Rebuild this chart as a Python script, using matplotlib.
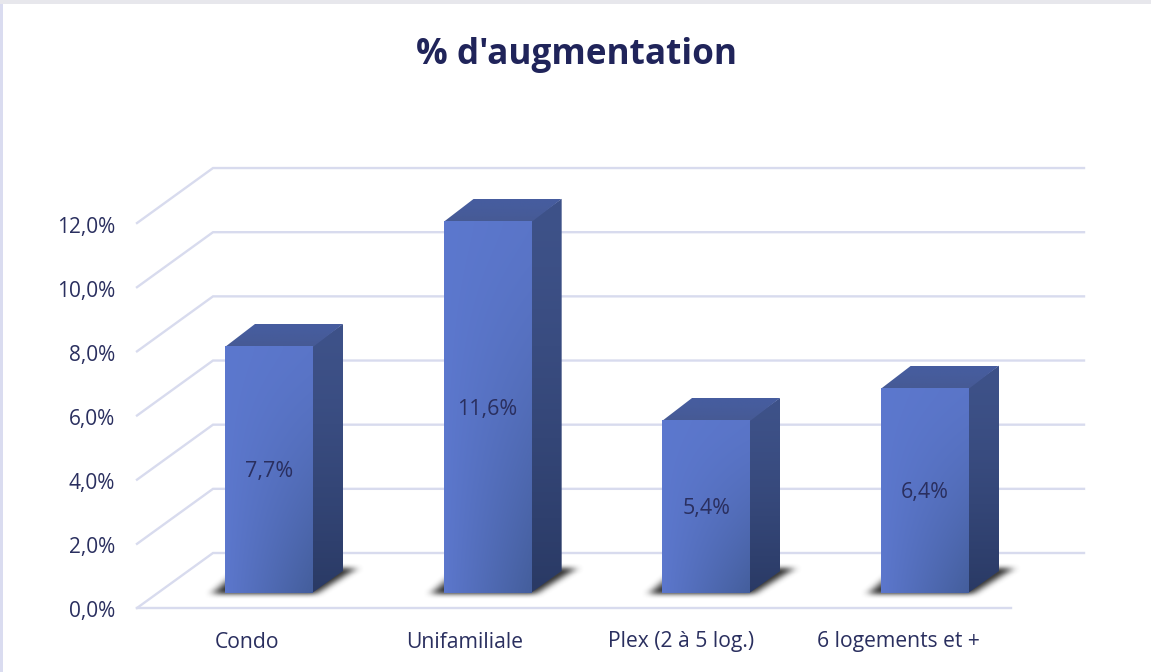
import numpy as np
import matplotlib
matplotlib.use('Agg')
import matplotlib.pyplot as plt
from matplotlib.patches import Polygon, Rectangle
from matplotlib.path import Path
from matplotlib.colors import to_rgb

categories = ['Condo', 'Unifamiliale', 'Plex (2 à 5 log.)', '6 logements et +']
values = [7.7, 11.6, 5.4, 6.4]
value_labels = ['7,7%', '11,6%', '5,4%', '6,4%']
grid_values = [0, 2, 4, 6, 8, 10, 12]
grid_labels = ['0,0%', '2,0%', '4,0%', '6,0%', '8,0%', '10,0%', '12,0%']

W, H = 1151, 672
PX_X = 218.67   # pixels for one category
PX_Y = 32.08    # pixels for 1 %
X0, Y0 = 269, 593   # centre of first bar at 0 %

DARK = '#2A2F5F'
TITLE = '#20245A'
GRID = '#D8DBEE'

plt.rcParams['font.family'] = ['Open Sans', 'DejaVu Sans']

fig = plt.figure(figsize=(W / 100, H / 100), dpi=100)
ax = fig.add_axes([0, 0, 1, 1])
ax.axis('off')
xlim = (-X0 / PX_X, (W - X0) / PX_X)
ylim = ((Y0 - H) / PX_Y, Y0 / PX_Y)


def dx(px):
    return px / PX_X


def dy(px):
    return px / PX_Y


def gradient(verts, colors, zorder):
    # fill a polygon with a 2d colour ramp, colors = tl, tr, bl, br
    xs = [v[0] for v in verts]
    ys = [v[1] for v in verts]
    u, v = np.meshgrid(np.linspace(0, 1, 60), np.linspace(0, 1, 60))
    v = v ** 1.4
    tl, tr, bl, br = [np.array(to_rgb(c)) for c in colors]
    img = (tl[None, None] * ((1 - u) * (1 - v))[..., None]
           + tr[None, None] * (u * (1 - v))[..., None]
           + bl[None, None] * ((1 - u) * v)[..., None]
           + br[None, None] * (u * v)[..., None])
    im = ax.imshow(img, extent=(min(xs), max(xs), min(ys), max(ys)), origin='upper',
                   aspect='auto', zorder=zorder, interpolation='bilinear')
    im.set_clip_path(Polygon(verts, closed=True, transform=ax.transData))


def shadow(x_left, x_right):
    # blurred drop shadow on the floor behind the bar
    left, right = x_left - dx(20), x_right + dx(50)
    poly = Path([(x_left - dx(13), dy(-1)), (x_right + dx(3), dy(-1)),
                 (x_right + dx(44), dy(25)), (x_left + dx(16), dy(25))])
    bottom, top = dy(-10), dy(36)
    xs = np.linspace(left - dx(10), right + dx(10), 190)
    ys = np.linspace(bottom, top, 92)
    gx, gy = np.meshgrid(xs, ys)
    mask = poly.contains_points(np.c_[gx.ravel(), gy.ravel()]).reshape(gx.shape).astype(float)
    kernel = np.ones(11) / 11
    for _ in range(2):
        mask = np.apply_along_axis(lambda r: np.convolve(r, kernel, mode='same'), 1, mask)
        mask = np.apply_along_axis(lambda r: np.convolve(r, kernel, mode='same'), 0, mask)
    img = np.zeros(mask.shape + (4,))
    img[..., :3] = 0.25
    img[..., 3] = np.clip(mask * 1.1, 0, 1)
    ax.imshow(img, extent=(xs[0], xs[-1], ys[0], ys[-1]), origin='lower', aspect='auto',
              zorder=2, interpolation='bilinear')


# window edges
fig.add_artist(Rectangle((0, 0), 2.5 / W, 1, transform=fig.transFigure, color='#DADCF0', lw=0))
fig.add_artist(Rectangle((0, 1 - 3.5 / H), 1, 3.5 / H, transform=fig.transFigure, color='#E7E7EC', lw=0))

# floor and walls
floor_left, floor_right = dx(137 - X0), dx(1011 - X0)
depth_x, depth_y = dx(76), dy(55)
floor_y = dy(-15)
for v, lab in zip(grid_values, grid_labels):
    y = v + floor_y
    if v == 0:
        ax.plot([floor_left, floor_right], [y, y], color=GRID, lw=1.7, zorder=1)
    ax.plot([floor_left, floor_left + depth_x, floor_left + depth_x + dx(871)],
            [y, y + depth_y, y + depth_y], color=GRID, lw=1.7, zorder=1, solid_joinstyle='miter')
    ax.text(floor_left - dx(22), y - dy(4), lab, ha='right', va='center', fontsize=15, color=DARK)

# bars
half = dx(44)
bar_dx, bar_dy = dx(30), dy(22)
for i, (cat, val, lab) in enumerate(zip(categories, values, value_labels)):
    l, r = i - half, i + half
    shadow(l, r)
    gradient([(r - dx(1), 0), (r + bar_dx, bar_dy), (r + bar_dx, val + bar_dy), (r - dx(1), val)],
             ['#3E5289', '#3E5289', '#2A3A65', '#2A3A65'], 3)
    gradient([(l, val - dy(1)), (r, val - dy(1)), (r + bar_dx, val + bar_dy), (l + bar_dx, val + bar_dy)],
             ['#465D9F', '#465D9F', '#465A94', '#465A94'], 3)
    gradient([(l, 0), (r, 0), (r, val), (l, val)],
             ['#5C78CE', '#5A75C8', '#5C77CC', '#445E9C'], 4)
    ax.text(i, val / 2 - dy(2.5), lab, ha='center', va='center', fontsize=15.5, color=DARK, zorder=5)
    ax.text(i - dx(22 + 1.4 * i), dy(-49), cat, ha='center', va='center', fontsize=15.2, color=DARK, zorder=5)

ax.text(dx(577 - X0), dy(Y0 - 55), "% d'augmentation", ha='center', va='center',
        fontsize=25.3, fontweight='bold', color=TITLE)

ax.set_xlim(xlim)
ax.set_ylim(ylim)
fig.savefig('out.png', dpi=100, facecolor='white')
